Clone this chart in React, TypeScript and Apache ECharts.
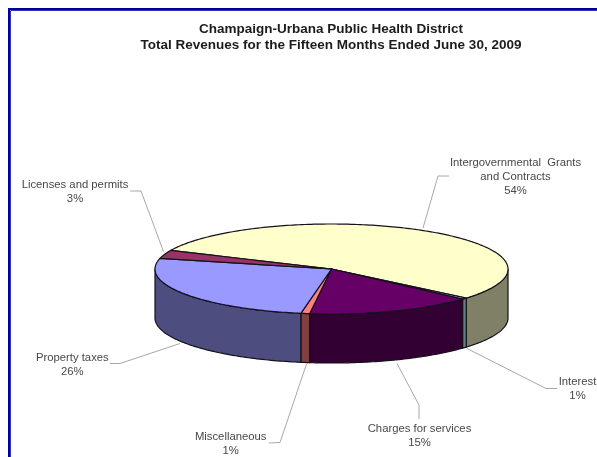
import React, { useEffect, useRef } from "react";
import * as echarts from "echarts";

const titleLines = [
  "Champaign-Urbana Public Health District",
  "Total Revenues for the Fifteen Months Ended June 30, 2009",
];
const categories = [
  "Intergovernmental  Grants\nand Contracts",
  "Interest",
  "Charges for services",
  "Miscellaneous",
  "Property taxes",
  "Licenses and permits",
];
const shares = [54.4, 0.5, 15.3, 0.8, 26, 3];

const topColors = ["#FFFFCC", "#CCFFFF", "#660066", "#FF8080", "#9999FF", "#993366"];
const wallColors = ["#808066", "#668080", "#330033", "#804040", "#4D4D80", "#4D1A33"];

// layout of the drawing (pixels in the 597x457 page)
const CX = 331.5;
const CY = 269;
const RX = 176.5;
const RY = 45;
const DEPTH = 49;
const START_DEG = 204.4;
const LABEL_POS = [
  [515.5, 175.5],
  [577.5, 388],
  [419.5, 434.7],
  [230.7, 443],
  [72.3, 363.7],
  [75, 191],
];
const LEADERS = [
  [[423, 228], [438, 176], [449, 176]],
  [[467, 348.5], [546, 388.5], [557, 388.5]],
  [[397, 363.5], [419, 405], [419, 419]],
  [[306.5, 364], [280, 442.5], [269, 443]],
  [[180, 343.5], [120, 363.5], [110, 363.5]],
  [[163.5, 251.5], [141, 191], [130, 191]],
];

function pt(deg: number, dy = 0): number[] {
  const r = (deg * Math.PI) / 180;
  return [CX + RX * Math.cos(r), CY + dy + RY * Math.sin(r)];
}
function arc(a0: number, a1: number, dy = 0): number[][] {
  const out: number[][] = [];
  const n = Math.max(2, Math.ceil(Math.abs(a1 - a0)));
  for (let i = 0; i <= n; i++) out.push(pt(a0 + ((a1 - a0) * i) / n, dy));
  return out;
}

export default function App() {
  const ref = useRef<HTMLDivElement>(null);
  useEffect(() => {
    document.body.style.margin = "0";
    const chart = echarts.init(ref.current!, null, { renderer: "svg" });
    const total = shares.reduce((a, b) => a + b, 0);
    const stroke = "#14101c";
    chart.setOption({
      animation: false,
      backgroundColor: "#ffffff",
      title: {
        text: titleLines.join("\n"),
        left: 331,
        top: 20,
        padding: 0,
        textAlign: "center",
        textStyle: {
          fontFamily: "Liberation Sans",
          fontSize: 13.5,
          fontWeight: "bold",
          color: "#1c1c1c",
          lineHeight: 16.5,
        },
      },
      graphic: [
        {
          type: "rect",
          shape: { x: 9, y: 9, width: 640, height: 500 },
          style: { fill: "none", stroke: "#000099", lineWidth: 2 },
          silent: true,
        },
        {
          type: "rect",
          shape: { x: 10.5, y: 10.5, width: 640, height: 500 },
          style: { fill: "none", stroke: "#3333C4", lineWidth: 1 },
          silent: true,
        },
      ],
      series: [
        {
          type: "custom",
          coordinateSystem: "none",
          silent: true,
          clip: false,
          data: shares,
          renderItem: (params: any, api: any) => {
            const i = params.dataIndex;
            const before = shares.slice(0, i).reduce((a, b) => a + b, 0);
            const a0 = START_DEG + (before / total) * 360;
            const a1 = a0 + (api.value(0) / total) * 360;
            const children: any[] = [];
            // visible (front) part of the wall: 360..540 in this running angle
            const w0 = Math.max(a0, 360);
            const w1 = Math.min(a1, 540);
            if (w1 > w0) {
              children.push({
                type: "polygon",
                shape: { points: [...arc(w0, w1), ...arc(w1, w0, DEPTH)] },
                style: { fill: wallColors[i], stroke, lineWidth: 1.2, lineJoin: "round" },
              });
            }
            children.push({
              type: "polygon",
              shape: { points: [[CX, CY], ...arc(a0, a1)] },
              style: { fill: topColors[i], stroke, lineWidth: 1.2, lineJoin: "round" },
            });
            children.push({
              type: "polyline",
              shape: { points: LEADERS[i] },
              style: { fill: "none", stroke: "#a8a8a8", lineWidth: 1 },
            });
            children.push({
              type: "text",
              x: LABEL_POS[i][0],
              y: LABEL_POS[i][1],
              style: {
                text: `${categories[i]}\n${Math.round(api.value(0))}%`,
                align: "center",
                verticalAlign: "middle",
                fontFamily: "Liberation Sans",
                fontSize: 11.3,
                lineHeight: 14,
                fill: "#484848",
              },
            });
            return { type: "group", children };
          },
        },
      ],
    });
    return () => chart.dispose();
  }, []);
  return (
    <div
      ref={ref}
      style={{
        position: "absolute",
        left: 0,
        top: 0,
        width: 597,
        height: 457,
        overflow: "hidden",
        filter: "blur(0.4px)",
      }}
    />
  );
}
